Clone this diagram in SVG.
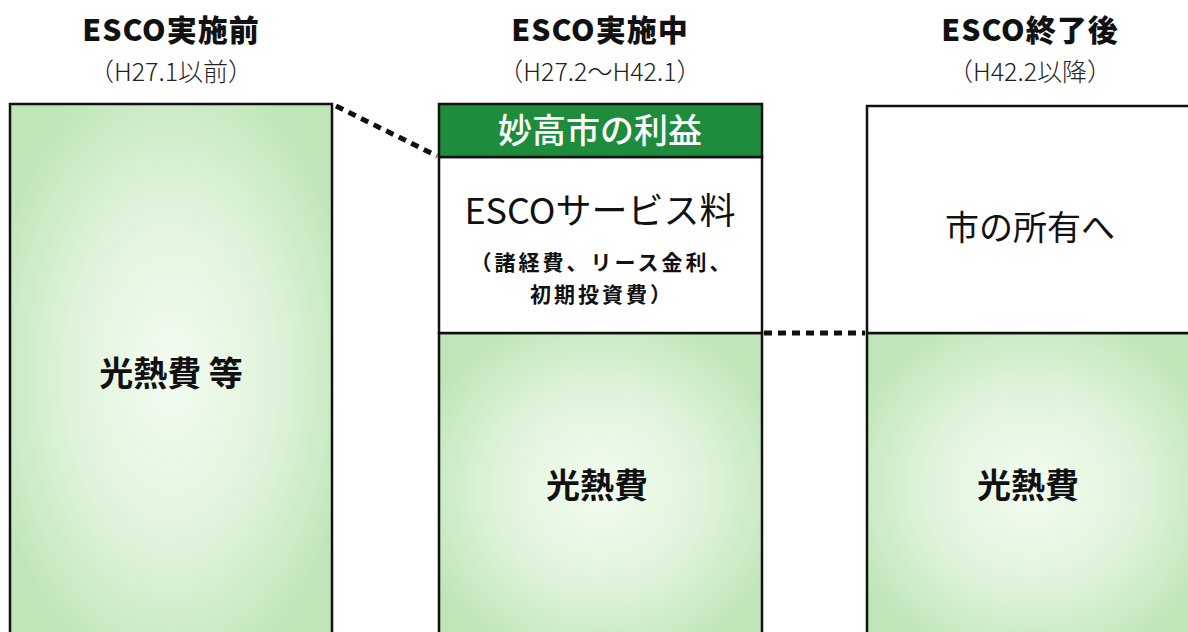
<svg xmlns="http://www.w3.org/2000/svg" width="1188" height="632" viewBox="0 0 1188 632">
<defs>
<radialGradient id="g" cx="0.5" cy="0.5" r="0.6">
<stop offset="0" stop-color="#f3fcf1"/>
<stop offset="0.55" stop-color="#def3d9"/>
<stop offset="1" stop-color="#bfe5b9"/>
</radialGradient>
<style>
.t{font-family:"Noto Sans CJK JP","Noto Sans",sans-serif;fill:#111;text-anchor:middle}
.h{font-size:30px;font-weight:900;letter-spacing:1px}
.s{font-size:25px;font-weight:300;fill:#222}
.b{stroke:#111;stroke-width:2.5}
.d{stroke:#111;stroke-width:5;stroke-dasharray:8,6;fill:none}
.p{font-size:21px;font-weight:700;letter-spacing:3px}
</style>
</defs>
<rect width="1188" height="632" fill="#fff"/>
<g id="title1"><text class="t h" x="171" y="41">ESCO実施前</text><text class="t s" x="171" y="81">（H27.1以前）</text></g>
<g id="title2"><text class="t h" x="600" y="41">ESCO実施中</text><text class="t s" x="600" y="81">（H27.2～H42.1）</text></g>
<g id="title3"><text class="t h" x="1030" y="41">ESCO終了後</text><text class="t s" x="1030" y="81">（H42.2以降）</text></g>
<g id="before">
<rect class="b" x="10" y="104" width="322" height="540" fill="url(#g)"/>
<text class="t" x="171" y="386" font-size="34" font-weight="700">光熱費 等</text>
</g>
<g id="during">
<rect class="b" x="439" y="333" width="323" height="311" fill="url(#g)"/>
<rect class="b" x="439" y="157" width="323" height="176" fill="#fff"/>
<rect class="b" x="439" y="104" width="323" height="53" fill="#1e8c3c"/>
<text class="t" x="600" y="143" font-size="34" font-weight="500" style="fill:#fff">妙高市の利益</text>
<text class="t" x="600" y="224" font-size="36" font-weight="400">ESCOサービス料</text>
<text class="t p" x="602" y="270">（諸経費、リース金利、</text>
<text class="t p" x="602" y="302">初期投資費）</text>
<text class="t" x="597" y="498" font-size="34" font-weight="700">光熱費</text>
</g>
<g id="after">
<rect class="b" x="867" y="333" width="330" height="311" fill="url(#g)"/>
<rect class="b" x="867" y="106" width="330" height="227" fill="#fff"/>
<text class="t" x="1030" y="240" font-size="34" font-weight="400">市の所有へ</text>
<text class="t" x="1028" y="498" font-size="34" font-weight="700">光熱費</text>
</g>
<g id="connectors">
<line class="d" x1="336" y1="106" x2="437" y2="156"/>
<line class="d" x1="764" y1="333" x2="865" y2="333"/>
</g>
</svg>
